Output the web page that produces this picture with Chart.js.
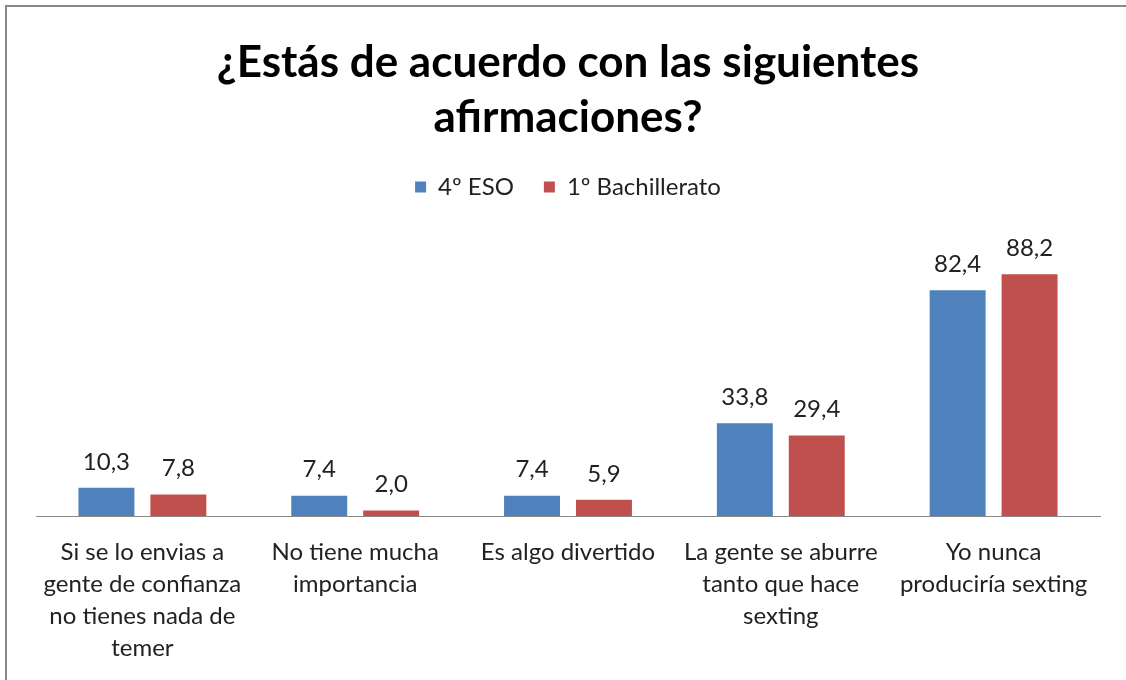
<!DOCTYPE html>
<html lang="es">
<head>
<meta charset="UTF-8">
<title>¿Estás de acuerdo con las siguientes afirmaciones?</title>
<script src="https://cdn.jsdelivr.net/npm/chart.js@4"></script>
<style>
  html, body { margin: 0; padding: 0; background: #fff; overflow: hidden; }
  .frame {
    position: absolute; left: 5px; top: 5px; width: 1200px; height: 760px;
    border-top: 2px solid #8a8a8a; border-left: 2px solid #8a8a8a;
  }
  .wrap { position: absolute; left: 0; top: 0; width: 1126px; height: 680px; }
</style>
</head>
<body>
<div class="frame"></div>
<div class="wrap"><canvas id="chart" width="1126" height="680"></canvas></div>
<script>
// Survey answers, percentage per course
const categories = [
  ['Si se lo envias a', 'gente de confianza', 'no tienes nada de', 'temer'],
  ['No tiene mucha', 'importancia'],
  ['Es algo divertido'],
  ['La gente se aburre', 'tanto que hace', 'sexting'],
  ['Yo nunca', 'produciría sexting']
];
const eso4 = [10.3, 7.4, 7.4, 33.8, 82.4];
const bach1 = [7.8, 2.0, 5.9, 29.4, 88.2];

const FONT = 'Lato, "Open Sans", sans-serif';

// value labels above each bar, decimal comma
const barValues = {
  id: 'barValues',
  afterDatasetsDraw(chart) {
    const ctx = chart.ctx;
    ctx.save();
    ctx.font = '24px ' + FONT;
    ctx.fillStyle = '#222';
    ctx.textAlign = 'center';
    ctx.textBaseline = 'middle';
    chart.data.datasets.forEach((ds, i) => {
      chart.getDatasetMeta(i).data.forEach((bar, j) => {
        ctx.fillText(ds.data[j].toFixed(1).replace('.', ','), bar.x, bar.y - 26);
      });
    });
    ctx.restore();
  }
};

new Chart(document.getElementById('chart'), {
  type: 'bar',
  data: {
    labels: categories,
    datasets: [
      { label: '4º ESO', data: eso4, backgroundColor: '#4f81bd' },
      { label: '1º Bachillerato', data: bach1, backgroundColor: '#c0504d' }
    ]
  },
  options: {
    responsive: false,
    animation: false,
    categoryPercentage: 0.676,
    barPercentage: 0.778,
    layout: { padding: { left: 36, right: 26, top: 0, bottom: 0 } },
    plugins: {
      title: {
        display: true,
        text: ['¿Estás de acuerdo con las siguientes', 'afirmaciones?'],
        color: '#000',
        font: { family: FONT, size: 44, weight: 'bold', lineHeight: 1.25 },
        padding: { top: 35, bottom: 0 }
      },
      legend: {
        display: true,
        labels: {
          color: '#222',
          font: { family: FONT, size: 24 },
          boxWidth: 11,
          boxHeight: 11,
          padding: 30
        }
      },
      tooltip: { enabled: false }
    },
    scales: {
      x: {
        grid: { display: false, drawTicks: false, tickLength: 0 },
        border: { display: true, color: '#8a8a8a', width: 1 },
        ticks: {
          color: '#222',
          font: { family: FONT, size: 24, lineHeight: 1.333 },
          padding: 20,
          maxRotation: 0,
          autoSkip: false
        },
        afterFit(scale) { scale.height = 164; }
      },
      y: {
        display: false,
        min: 0,
        max: 112
      }
    }
  },
  plugins: [barValues]
});
</script>
</body>
</html>
